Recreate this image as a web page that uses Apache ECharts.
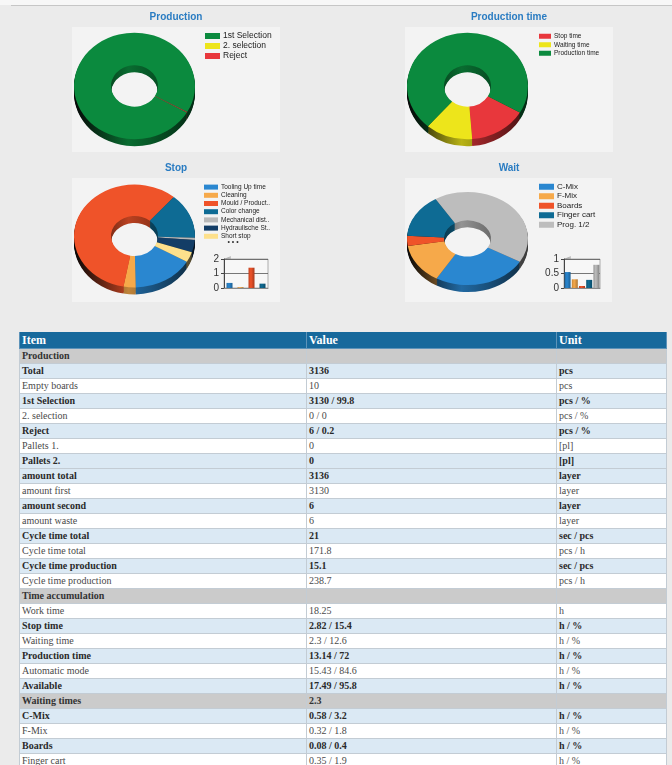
<!DOCTYPE html>
<html>
<head>
<meta charset="utf-8">
<script src="https://cdn.jsdelivr.net/npm/echarts@6/dist/echarts.min.js"></script>
<style>
  html, body { margin: 0; padding: 0; overflow: hidden; }
  body { width: 672px; height: 765px; background: #ebebeb; position: relative; font-family: 'Liberation Sans', Arial, sans-serif; }
  #topStrip { position: absolute; left: 0; top: 0; width: 672px; height: 5px; background: #f7f7f7; }
  #topLine { position: absolute; left: 11px; top: 5px; width: 661px; height: 1px; background: #c6c6c6; }
  #chart { position: absolute; left: 0; top: 0; width: 672px; height: 326px; }
  #report { position: absolute; left: 19px; top: 332px; width: 647px; border-collapse: collapse; table-layout: fixed;
            font-family: 'Liberation Serif', 'DejaVu Serif', serif; font-size: 10px; }
  #report th { background: #17699c; color: #fff; text-align: left; font-size: 12px; font-weight: bold; height: 16px; line-height: 16px;
               padding: 0 2px; border: 1px solid #5d93b9; border-top: none; }
  #report td { height: 14px; line-height: 14px; padding: 0 2px; border: 1px solid #c3ccd4; white-space: nowrap; overflow: hidden; }
  #report tr.sec td { background: #cbcbcb; color: #333; font-weight: bold; }
  #report tr.blue td { background: #dbe9f4; color: #2a2a2a; font-weight: bold; }
  #report tr.white td { background: #ffffff; color: #4a4a4a; }
</style>
</head>
<body>
<div id="topStrip"></div>
<div id="topLine"></div>
<div id="chart"></div>
<table id="report">
  <colgroup><col style="width:287px"><col style="width:250px"><col style="width:110px"></colgroup>
  <thead><tr><th>Item</th><th>Value</th><th>Unit</th></tr></thead>
  <tbody id="reportBody"></tbody>
</table>
<script>
// ---- chart data ----
var prodNames = ['1st Selection', '2. selection', 'Reject'];
var prodValues = [3130, 0, 6];

var ptimeNames = ['Stop time', 'Waiting time', 'Production time'];
var ptimeValues = [2.82, 2.3, 13.14];

var stopNames = ['Tooling Up time', 'Cleaning', 'Mould / Product..', 'Color change', 'Mechanical dist..', 'Hydraulische St..', 'Short stop'];
var stopValues = [0.46, 0.09, 1.64, 0.40, 0.02, 0.11, 0.09];
var stopMiniValues = [0.35, 0.06, 1.4, 0.3];
var stopMiniTicks = [0, 1, 2];

var waitNames = ['C-Mix', 'F-Mix', 'Boards', 'Finger cart', 'Prog. 1/2'];
var waitValues = [0.58, 0.32, 0.08, 0.35, 0.97];
var waitMiniValues = [0.55, 0.3, 0.07, 0.28, 0.8];
var waitMiniTicks = [0, 0.5, 1];

// ---- table data ----
var tableItems = ['Production', 'Total', 'Empty boards', '1st Selection', '2. selection', 'Reject', 'Pallets 1.', 'Pallets 2.',
  'amount total', 'amount first', 'amount second', 'amount waste', 'Cycle time total', 'Cycle time total',
  'Cycle time production', 'Cycle time production', 'Time accumulation', 'Work time', 'Stop time', 'Waiting time',
  'Production time', 'Automatic mode', 'Available', 'Waiting times', 'C-Mix', 'F-Mix', 'Boards', 'Finger cart'];
var tableValues = ['', '3136', '10', '3130 / 99.8', '0 / 0', '6 / 0.2', '0', '0',
  '3136', '3130', '6', '6', '21', '171.8',
  '15.1', '238.7', '', '18.25', '2.82 / 15.4', '2.3 / 12.6',
  '13.14 / 72', '15.43 / 84.6', '17.49 / 95.8', '2.3', '0.58 / 3.2', '0.32 / 1.8', '0.08 / 0.4', '0.35 / 1.9'];
var tableUnits = ['', 'pcs', 'pcs', 'pcs / %', 'pcs / %', 'pcs / %', '[pl]', '[pl]',
  'layer', 'layer', 'layer', 'layer', 'sec / pcs', 'pcs / h',
  'sec / pcs', 'pcs / h', '', 'h', 'h / %', 'h / %',
  'h / %', 'h / %', 'h / %', '', 'h / %', 'h / %', 'h / %', 'h / %'];
// row shading (S = section, B = blue, W = white)
var rowKinds = ['S', 'B', 'W', 'B', 'W', 'B', 'W', 'B', 'B', 'W', 'B', 'W', 'B', 'W', 'B', 'W',
  'S', 'W', 'B', 'W', 'B', 'W', 'B', 'S', 'B', 'W', 'B', 'W'];

// colours
var green = '#0b8a3e', yellow = '#ede51b', red = '#e8373c';
var prodColors = [green, yellow, red];
var ptimeColors = [red, yellow, green];
var stopColors = ['#2a87d0', '#f6a94a', '#ef5329', '#0e6b94', '#b9b9b9', '#133d66', '#fde08c'];
var waitColors = ['#2a87d0', '#f6a94a', '#ef5329', '#0e6b94', '#bdbdbd'];

function shade(hex, f) {
  var n = parseInt(hex.slice(1), 16);
  var r = Math.round(((n >> 16) & 255) * f), g = Math.round(((n >> 8) & 255) * f), b = Math.round((n & 255) * f);
  return 'rgb(' + r + ',' + g + ',' + b + ')';
}

var R0 = 23.5, R1 = 60.5;
var pies = [
  { key: 'prod', names: prodNames, values: prodValues, colors: prodColors, cx: 134.5, cy: 86, s: 0.88, depth: 7 },
  { key: 'ptime', names: ptimeNames, values: ptimeValues, colors: ptimeColors, cx: 467.5, cy: 86, s: 0.88, depth: 7 },
  { key: 'stop', names: stopNames, values: stopValues, colors: stopColors, cx: 134.5, cy: 236, s: 0.85, depth: 7 },
  { key: 'wait', names: waitNames, values: waitValues, colors: waitColors, cx: 467.5, cy: 238.5, s: 0.77, depth: 7 }
];

function pieSeries(p) {
  var list = [];
  var base = {
    type: 'pie', radius: [R0, R1], startAngle: 330, clockwise: true, silent: true,
    label: { show: false }, labelLine: { show: false }, emphasis: { disabled: true }
  };
  list.push(Object.assign({}, base, {
    id: p.key + '-top', name: p.key, z: 3, center: [p.cx, p.cy],
    data: p.names.map(function (n, i) {
      return { name: n, value: p.values[i], itemStyle: { color: p.colors[i], borderWidth: 0 } };
    })
  }));
  for (var d = p.depth; d >= 1; d--) {
    list.push(Object.assign({}, base, {
      id: p.key + '-side' + d, name: p.key + ' side', z: 2, center: [p.cx, p.cy + d / p.s],
      data: p.names.map(function (n, i) {
        return {
          name: n, value: p.values[i],
          itemStyle: {
            borderWidth: 0,
            color: {
              type: 'linear', global: true, x: p.cx - R1, y: 0, x2: p.cx + R1, y2: 0,
              colorStops: [
                { offset: 0, color: '#060606' },
                { offset: 0.45, color: shade(p.colors[i], 0.78) },
                { offset: 1, color: shade(p.colors[i], 0.3) }
              ]
            }
          }
        };
      })
    }));
  }
  return list;
}

function legendOf(names, left, top, w, h, fontSize, lh) {
  return {
    orient: 'vertical', left: left, top: top, padding: 0, itemGap: 0,
    itemWidth: w, itemHeight: h, icon: 'rect', selectedMode: false, data: names,
    textStyle: { fontSize: fontSize, lineHeight: lh, color: '#222', fontFamily: 'Liberation Sans', padding: [0, 0, 0, -2] }
  };
}

function titleText(text, x, y) {
  return {
    type: 'text', x: x, y: y, z: 10,
    style: { text: text, fill: '#2a7cc2', font: 'bold 10px "Liberation Sans", Arial', textAlign: 'center', textVerticalAlign: 'middle' }
  };
}

function panel(x, y, w, h) {
  return { type: 'rect', z: -5, shape: { x: x, y: y, width: w, height: h }, style: { fill: '#f3f3f3' } };
}

function wall(x, y0, y1) {
  return {
    type: 'polygon', z: -1,
    shape: { points: [[x, y0], [x + 7, y0 - 3], [x + 7, y1 - 6], [x, y1]] },
    style: { fill: { type: 'linear', x: 0, y: 0, x2: 1, y2: 0, colorStops: [{ offset: 0, color: '#8d8d8d' }, { offset: 1, color: '#c9c9c9' }] } }
  };
}

function miniBars(values, colors, gridIndex) {
  return {
    type: 'bar', name: 'mini' + gridIndex, xAxisIndex: gridIndex, yAxisIndex: gridIndex, barWidth: 6, silent: true,
    data: values.map(function (v, i) {
      return {
        value: v,
        itemStyle: {
          color: { type: 'linear', x: 0, y: 0, x2: 1, y2: 0,
            colorStops: [{ offset: 0, color: shade(colors[i], 0.8) }, { offset: 0.4, color: colors[i] }, { offset: 1, color: shade(colors[i], 0.7) }] }
        }
      };
    })
  };
}

var miniAxisLabel = { fontSize: 10, color: '#333', fontFamily: 'Liberation Sans', margin: 5 };

var series = [];
pies.forEach(function (p) { series = series.concat(pieSeries(p)); });
series.push(miniBars(stopMiniValues, stopColors, 0));
series.push(miniBars(waitMiniValues, waitColors, 1));

var chart = echarts.init(document.getElementById('chart'));
var option = {
  animation: false,
  backgroundColor: 'transparent',
  legend: [
    legendOf(prodNames, 205, 31, 15, 6, 8.5, 10),
    legendOf(ptimeNames, 539, 32, 12, 5, 6.5, 8.5),
    legendOf(stopNames, 204, 183, 14, 5, 6.5, 8.2),
    legendOf(waitNames, 539, 182, 15, 6, 8, 9.5)
  ],
  grid: [
    { left: 224, top: 259, width: 44, height: 29, show: true, backgroundColor: '#f7f7f7', borderColor: '#9a9a9a', borderWidth: 0.8 },
    { left: 564, top: 259, width: 36, height: 29, show: true, backgroundColor: '#f7f7f7', borderColor: '#9a9a9a', borderWidth: 0.8 }
  ],
  xAxis: [
    { gridIndex: 0, type: 'category', data: stopNames.slice(0, stopMiniValues.length), axisLabel: { show: false }, axisTick: { show: false }, axisLine: { lineStyle: { color: '#888' } } },
    { gridIndex: 1, type: 'category', data: waitNames, axisLabel: { show: false }, axisTick: { show: false }, axisLine: { lineStyle: { color: '#888' } } }
  ],
  yAxis: [
    { gridIndex: 0, type: 'value', min: stopMiniTicks[0], max: stopMiniTicks[2], interval: stopMiniTicks[1] - stopMiniTicks[0],
      axisLabel: miniAxisLabel, axisLine: { show: true, lineStyle: { color: '#444' } }, axisTick: { show: true, length: 3, lineStyle: { color: '#444' } },
      splitLine: { lineStyle: { color: '#555', width: 0.8 } } },
    { gridIndex: 1, type: 'value', min: waitMiniTicks[0], max: waitMiniTicks[2], interval: waitMiniTicks[1] - waitMiniTicks[0],
      axisLabel: miniAxisLabel, axisLine: { show: true, lineStyle: { color: '#444' } }, axisTick: { show: true, length: 3, lineStyle: { color: '#444' } },
      splitLine: { lineStyle: { color: '#555', width: 0.8 } } }
  ],
  graphic: [
    panel(72, 27, 208, 125), panel(405, 27, 208, 125), panel(72, 178, 208, 124), panel(405, 178, 207, 124),
    titleText('Production', 176, 17), titleText('Production time', 509, 17),
    titleText('Stop', 176, 168), titleText('Wait', 509, 168),
    { type: 'text', x: 233, y: 242, z: 10, style: { text: '• • •', fill: '#333', font: '7px "Liberation Sans"', textAlign: 'center', textVerticalAlign: 'middle' } },
    wall(224, 259, 288), wall(564, 259, 288)
  ],
  series: series
};
chart.setOption(option);

// squash the round pies into flat ellipses so they look tilted
var pieInfo = {};
pies.forEach(function (p) { pieInfo[p.key] = p; });
chart.getModel().eachSeries(function (s) {
  if (s.subType !== 'pie') return;
  var p = pieInfo[String(s.id).split('-')[0]];
  var view = chart.getViewOfSeriesModel ? chart.getViewOfSeriesModel(s) : (chart._chartsMap && chart._chartsMap[s.__viewId]);
  if (!p || !view) return;
  var g = view.group;
  g.originX = p.cx;
  g.originY = p.cy;
  g.scaleY = p.s;
  g.markRedraw && g.markRedraw();
  g.traverse(function (el) { el.markRedraw && el.markRedraw(); });
});
chart.getZr().refreshImmediately();

// ---- table ----
var body = document.getElementById('reportBody');
var kindClass = { S: 'sec', B: 'blue', W: 'white' };
tableItems.forEach(function (item, i) {
  var tr = document.createElement('tr');
  tr.className = kindClass[rowKinds[i]];
  [item, tableValues[i], tableUnits[i]].forEach(function (txt) {
    var td = document.createElement('td');
    td.textContent = txt;
    tr.appendChild(td);
  });
  body.appendChild(tr);
});
</script>
</body>
</html>
